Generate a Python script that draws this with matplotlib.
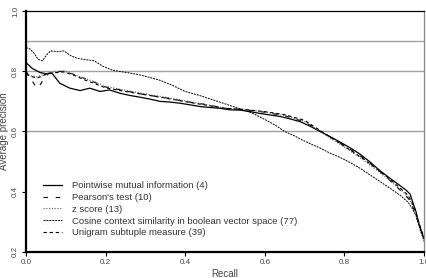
import matplotlib
matplotlib.use("Agg")
import matplotlib.pyplot as plt

# recall / precision readings
pmi_r = [0, 0.015, 0.035, 0.05, 0.065, 0.085, 0.11, 0.136, 0.16, 0.186, 0.21, 0.236,
         0.26, 0.286, 0.31, 0.337, 0.36, 0.387, 0.41, 0.437, 0.46, 0.487, 0.513, 0.538,
         0.563, 0.588, 0.613, 0.638, 0.663, 0.688, 0.713, 0.739, 0.764, 0.789, 0.814,
         0.839, 0.864, 0.889, 0.914, 0.94, 0.955, 0.965, 0.973, 0.98, 0.986, 0.993, 1.0]
pmi_p = [0.829, 0.81, 0.796, 0.792, 0.794, 0.76, 0.744, 0.736, 0.744, 0.733, 0.738, 0.727,
         0.72, 0.714, 0.708, 0.70, 0.698, 0.694, 0.689, 0.683, 0.68, 0.677, 0.672, 0.671,
         0.666, 0.66, 0.655, 0.65, 0.642, 0.633, 0.618, 0.60, 0.583, 0.565, 0.546,
         0.525, 0.499, 0.47, 0.445, 0.42, 0.405, 0.392, 0.36, 0.333, 0.30, 0.27, 0.245]

cos_r = [0, 0.01, 0.02, 0.03, 0.041, 0.052, 0.062, 0.079, 0.095, 0.112, 0.129, 0.154,
         0.171, 0.194, 0.219, 0.253, 0.286, 0.31, 0.337, 0.37, 0.40, 0.435, 0.47, 0.5,
         0.52, 0.545, 0.57, 0.6, 0.625, 0.65, 0.675, 0.7, 0.72, 0.739, 0.764, 0.789,
         0.814, 0.839, 0.864, 0.889, 0.914, 0.94, 0.96, 0.97, 0.98, 0.99, 1.0]
cos_p = [0.879, 0.874, 0.86, 0.84, 0.835, 0.855, 0.868, 0.865, 0.868, 0.852, 0.843, 0.838,
         0.835, 0.816, 0.803, 0.796, 0.788, 0.78, 0.77, 0.752, 0.733, 0.72, 0.705, 0.692,
         0.683, 0.672, 0.66, 0.64, 0.622, 0.60, 0.585, 0.568, 0.556, 0.545, 0.528, 0.514,
         0.497, 0.478, 0.456, 0.434, 0.412, 0.388, 0.365, 0.345, 0.32, 0.275, 0.235]

mid_r = [0, 0.012, 0.027, 0.037, 0.045, 0.058, 0.07, 0.095, 0.12, 0.146, 0.171, 0.2,
         0.25, 0.3, 0.35, 0.4, 0.45, 0.5, 0.55, 0.6, 0.65, 0.7, 0.75, 0.8, 0.85, 0.9,
         0.94, 0.96, 0.975, 0.99, 1.0]
pearson_p = [0.80, 0.775, 0.744, 0.758, 0.777, 0.794, 0.799, 0.80, 0.79, 0.777, 0.764, 0.748,
             0.735, 0.722, 0.712, 0.70, 0.69, 0.677, 0.672, 0.664, 0.652, 0.632, 0.593, 0.553,
             0.51, 0.455, 0.405, 0.378, 0.34, 0.28, 0.245]
z_p = [0.795, 0.785, 0.782, 0.786, 0.79, 0.795, 0.797, 0.801, 0.79, 0.777, 0.766, 0.75,
       0.737, 0.725, 0.714, 0.702, 0.69, 0.678, 0.673, 0.665, 0.653, 0.633, 0.59, 0.548,
       0.503, 0.452, 0.408, 0.383, 0.345, 0.28, 0.245]
uni_p = [0.79, 0.783, 0.778, 0.782, 0.787, 0.792, 0.795, 0.798, 0.787, 0.772, 0.76, 0.745,
         0.733, 0.722, 0.711, 0.699, 0.688, 0.677, 0.673, 0.666, 0.656, 0.637, 0.594, 0.551,
         0.507, 0.457, 0.412, 0.388, 0.35, 0.285, 0.245]

grid_levels = [0.6, 0.8, 0.9]
ticks = [0.0, 0.2, 0.4, 0.6, 0.8, 1.0]
yticks = [0.2, 0.4, 0.6, 0.8, 1.0]

txt = "#444444"
plt.rcParams['font.family'] = ['Liberation Sans', 'DejaVu Sans']

fig = plt.figure(figsize=(4.27, 2.78), dpi=100)
ax = fig.add_axes([0.061, 0.094, 0.932, 0.866])

for g in grid_levels:
    ax.axhline(g, color="#a0a0a0", lw=1.0, zorder=1)

ax.plot(pmi_r, pmi_p, color="black", lw=0.9, ls="-", label="Pointwise mutual information (4)")
ax.plot(mid_r, pearson_p, color="black", lw=0.8, ls=(0, (4, 7)), label="Pearson's test (10)")
ax.plot(mid_r, z_p, color="#555555", lw=0.8, ls=(0, (1, 1.5)), label="z score (13)")
ax.plot(cos_r, cos_p, color="black", lw=0.7, ls=(0, (2, 1)), label="Cosine context similarity in boolean vector space (77)")
ax.plot(mid_r, uni_p, color="black", lw=0.8, ls=(0, (3, 2.5)), label="Unigram subtuple measure (39)")

ax.set_xlim(0, 1)
ax.set_ylim(0.2, 1.0)
ax.set_xticks(ticks)
ax.set_xticklabels(["%.1f" % t for t in ticks])
ax.set_yticks(yticks)
ax.set_yticklabels(["%.1f" % t for t in yticks], rotation=90, va="center")
ax.tick_params(labelsize=5.8, colors=txt, length=3, width=0.8, pad=2)
ax.tick_params(axis="both", color="black")
ax.set_xlabel("Recall", fontsize=7, color=txt, labelpad=2)
ax.set_ylabel("Average precision", fontsize=7, color=txt, labelpad=2)

ax.spines["left"].set_linewidth(1.6)
ax.spines["bottom"].set_linewidth(1.6)
ax.spines["top"].set_linewidth(0.9)
ax.spines["right"].set_linewidth(0.9)
ax.spines["right"].set_color("#888888")

leg = ax.legend(loc="lower left", bbox_to_anchor=(0.02, 0.025), frameon=False,
                fontsize=6.8, handlelength=2.1, labelspacing=0.3, handletextpad=1.05)
for t in leg.get_texts():
    t.set_color("#333333")

fig.savefig("out.png", dpi=100)
